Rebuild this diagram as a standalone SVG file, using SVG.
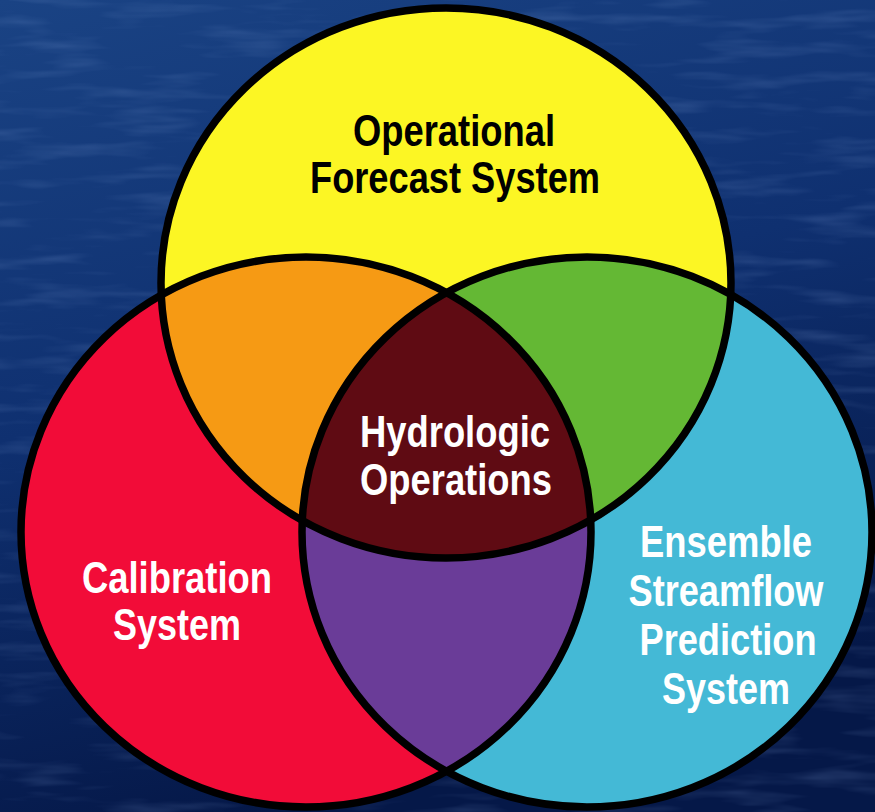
<svg xmlns="http://www.w3.org/2000/svg" width="875" height="812" viewBox="0 0 875 812">
  <style>
    .lbl { font-family: "Liberation Sans", Arial, sans-serif; font-weight: bold; font-size: 44px; text-anchor: middle; }
    .dark { fill: #000000; }
    .light { fill: #ffffff; }
    .outline { fill: none; stroke: #000000; stroke-width: 7.5; }
  </style>
  <defs>
    <linearGradient id="sea" x1="0" y1="0" x2="0.3" y2="1">
      <stop offset="0" stop-color="#1a4384"/>
      <stop offset="0.5" stop-color="#0f3070"/>
      <stop offset="1" stop-color="#051848"/>
    </linearGradient>
    <filter id="ripples" x="0" y="0" width="100%" height="100%">
      <feTurbulence type="fractalNoise" baseFrequency="0.01 0.07" numOctaves="3" seed="7"/>
      <feColorMatrix type="matrix" values="0 0 0 0 0.3  0 0 0 0 0.45  0 0 0 0 0.8  0 0 0 1.4 -0.7"/>
    </filter>
    <ellipse id="eY" cx="446" cy="283" rx="285" ry="275"/>
    <ellipse id="eR" cx="306" cy="532" rx="285" ry="275"/>
    <ellipse id="eB" cx="587" cy="532" rx="285" ry="275"/>
    <clipPath id="cY"><use href="#eY"/></clipPath>
    <clipPath id="cR"><use href="#eR"/></clipPath>
  </defs>

  <rect width="875" height="812" fill="url(#sea)"/>
  <rect width="875" height="812" filter="url(#ripples)" opacity="0.3"/>

  <g id="fills">
    <use href="#eR" fill="#f20c38"/>
    <use href="#eB" fill="#44b9d6"/>
    <use href="#eY" fill="#fcf624"/>
    <g clip-path="url(#cY)">
      <use href="#eR" fill="#f69a14"/>
      <use href="#eB" fill="#64b834"/>
    </g>
    <use href="#eB" fill="#6a3c98" clip-path="url(#cR)"/>
    <g clip-path="url(#cY)">
      <use href="#eB" fill="#5f0b13" clip-path="url(#cR)"/>
    </g>
  </g>

  <g id="connectors"></g>

  <g id="node-operational-forecast">
    <use href="#eY" class="outline"/>
    <text class="lbl dark" x="454" y="146" textLength="202" lengthAdjust="spacingAndGlyphs">Operational</text>
    <text class="lbl dark" x="455" y="193" textLength="290" lengthAdjust="spacingAndGlyphs">Forecast System</text>
  </g>

  <g id="node-calibration">
    <use href="#eR" class="outline"/>
    <text class="lbl light" x="177" y="593" textLength="190" lengthAdjust="spacingAndGlyphs">Calibration</text>
    <text class="lbl light" x="177" y="640" textLength="128" lengthAdjust="spacingAndGlyphs">System</text>
  </g>

  <g id="node-ensemble">
    <use href="#eB" class="outline"/>
    <text class="lbl light" x="726" y="557" textLength="172" lengthAdjust="spacingAndGlyphs">Ensemble</text>
    <text class="lbl light" x="726" y="606" textLength="195" lengthAdjust="spacingAndGlyphs">Streamflow</text>
    <text class="lbl light" x="728" y="655" textLength="177" lengthAdjust="spacingAndGlyphs">Prediction</text>
    <text class="lbl light" x="726" y="704" textLength="128" lengthAdjust="spacingAndGlyphs">System</text>
  </g>

  <g id="node-hydrologic-operations">
    <text class="lbl light" x="455" y="447" textLength="190" lengthAdjust="spacingAndGlyphs">Hydrologic</text>
    <text class="lbl light" x="456" y="495" textLength="192" lengthAdjust="spacingAndGlyphs">Operations</text>
  </g>
</svg>
